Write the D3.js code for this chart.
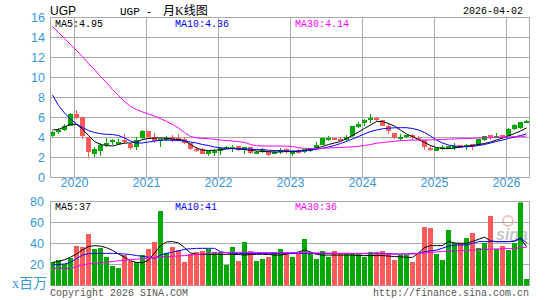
<!DOCTYPE html>
<html>
<head>
<meta charset="utf-8">
<script src="https://cdn.jsdelivr.net/npm/d3@7"></script>
<style>
body { margin: 0; background: #fff; }
svg { display: block; }
</style>
</head>
<body>
<div id="chart"></div>
<script>
// monthly K-line, Sep 2019 .. Apr 2026
var months = [
  "2019-09","2019-10","2019-11","2019-12",
  "2020-01","2020-02","2020-03","2020-04","2020-05","2020-06","2020-07","2020-08","2020-09","2020-10","2020-11","2020-12",
  "2021-01","2021-02","2021-03","2021-04","2021-05","2021-06","2021-07","2021-08","2021-09","2021-10","2021-11","2021-12",
  "2022-01","2022-02","2022-03","2022-04","2022-05","2022-06","2022-07","2022-08","2022-09","2022-10","2022-11","2022-12",
  "2023-01","2023-02","2023-03","2023-04","2023-05","2023-06","2023-07","2023-08","2023-09","2023-10","2023-11","2023-12",
  "2024-01","2024-02","2024-03","2024-04","2024-05","2024-06","2024-07","2024-08","2024-09","2024-10","2024-11","2024-12",
  "2025-01","2025-02","2025-03","2025-04","2025-05","2025-06","2025-07","2025-08","2025-09","2025-10","2025-11","2025-12",
  "2026-01","2026-02","2026-03","2026-04"
];

var openP  = [4.15,4.62,4.82,5.2,6.35,6.05,4.1,2.35,2.65,3.3, 3.48,3.48,3.72,3.35,3.1,3.95,4.65,4.1,3.72,3.92,
              4.05,4.0,3.85,3.45,2.9,2.9,2.35,2.6,2.65,2.95, 2.95,3.15,2.8,3.05,2.45,2.65,2.63,2.5,2.75,2.9,
              2.38,2.67,2.58,2.65,2.95,3.35,3.87,3.97,3.9,3.73, 4.15,5.05,5.47,5.93,5.97,5.73,5.15,4.5,4.03,4.07,
              4.3,4.0,3.75,2.93,2.73,3.03,2.9,3.1,3.23,3.2, 3.33,3.23,3.8,4.23,4.14,4.23,4.17,4.83,5.0,5.64];
var closeP = [4.55,4.72,5.2,6.35,5.95,4.2,2.57,2.82,3.25,3.45, 3.72,3.58,3.5,2.97,3.8,4.65,4.05,3.68,3.9,4.0,
              3.75,3.82,3.5,2.85,2.82,2.4,2.62,2.68,2.95,3.03, 3.05,2.8,3.03,2.45,2.52,2.88,2.25,2.6,2.8,2.58,
              2.65,2.6,2.85,2.95,3.3,4.0,3.93,3.77,3.7,4.05, 5.15,5.4,5.77,6.0,5.75,5.1,4.65,3.97,4.1,4.3,
              4.07,3.95,3.07,2.87,3.0,3.1,3.17,3.15,2.97,3.25, 3.07,3.83,4.17,4.0,4.2,3.97,4.9,5.23,5.57,5.7];
var highP  = [4.65,4.95,5.4,6.45,6.75,6.1,4.1,3.05,3.45,4.0, 3.9,3.9,4.35,3.5,4.1,4.8,4.65,4.5,3.9,4.15,
              4.3,4.35,4.05,3.5,3.1,2.92,2.65,2.85,2.95,3.15, 3.3,3.2,3.08,3.05,2.68,2.95,2.65,2.62,3.0,2.95,
              2.65,2.9,2.9,3.0,3.6,4.0,4.15,3.97,4.05,4.3, 5.2,5.55,5.9,6.4,6.05,5.73,5.4,4.5,4.4,4.3,
              4.4,4.15,3.75,3.25,3.0,3.3,3.17,3.45,3.25,3.4, 3.4,3.85,4.2,4.25,4.45,4.25,4.95,5.3,5.6,5.75];
var lowP   = [4.05,4.4,4.7,5.15,5.8,3.95,1.97,2.05,2.15,3.15, 3.3,3.3,3.4,2.8,2.85,3.85,3.85,3.5,3.15,3.7,
              3.65,3.7,3.4,2.8,2.6,2.35,2.2,2.2,2.25,2.85, 2.6,2.75,2.4,2.35,2.35,2.5,2.2,2.45,2.4,2.35,
              2.2,2.45,2.55,2.6,2.95,3.3,3.65,3.75,3.65,3.65, 4.1,4.95,5.25,5.5,5.65,5.1,4.4,3.95,3.75,4.0,
              3.85,3.65,2.8,2.65,2.7,2.85,2.85,2.75,2.95,2.8, 2.8,3.2,3.75,3.75,3.95,3.9,4.15,4.75,4.95,5.5];

var ma5  = [4.75,4.8,5.05,5.35,5.3,4.85,4.2,3.6,3.3,3.2, 3.15,3.3,3.45,3.45,3.55,3.8,3.9,3.95,3.95,3.93,
            3.85,3.8,3.7,3.3,2.95,2.75,2.7,2.72,2.78,2.85, 2.9,2.85,2.8,2.72,2.65,2.6,2.58,2.55,2.55,2.6,
            2.58,2.62,2.7,2.8,2.95,3.1,3.3,3.45,3.6,3.9, 4.2,4.55,4.9,5.25,5.6,5.6,5.4,5.15,4.75,4.35,
            4.1,3.8,3.5,3.2,3.0,2.9,2.88,2.95,3.05,3.12, 3.2,3.3,3.4,3.55,3.75,3.95,4.15,4.4,4.65,4.95];
var ma10 = [8.25,7.2,6.45,5.85,5.35,5.0,4.7,4.5,4.38,4.32, 4.3,4.2,3.95,3.65,3.45,3.45,3.55,3.65,3.72,3.75,
            3.72,3.7,3.65,3.55,3.45,3.3,3.2,3.05,2.97,2.92, 2.9,2.88,2.86,2.83,2.8,2.77,2.73,2.7,2.68,2.65,
            2.65,2.67,2.7,2.75,2.82,2.92,3.05,3.2,3.4,3.6, 3.85,4.1,4.35,4.6,4.75,4.87,4.93,4.97,4.98,4.98,
            4.9,4.75,4.5,4.15,3.75,3.45,3.25,3.15,3.1,3.08, 3.12,3.2,3.3,3.45,3.6,3.75,3.9,4.05,4.2,4.36];
var ma30 = [15.1,14.5,13.9,13.3,12.7,12.1,11.4,10.8,10.1,9.5, 8.8,8.2,7.6,7.1,6.8,6.55,6.35,6.15,5.9,5.6,
            5.3,4.95,4.5,4.1,3.97,3.92,3.88,3.82,3.75,3.7, 3.65,3.58,3.52,3.3,3.18,3.15,3.15,3.15,3.15,3.13,
            3.1,2.98,2.92,2.9,2.9,2.92,2.95,2.98,3.0,3.03, 3.07,3.12,3.2,3.3,3.42,3.5,3.56,3.62,3.68,3.72,
            3.74,3.75,3.76,3.77,3.78,3.8,3.84,3.86,3.88,3.9, 3.92,3.95,3.97,3.98,4.0,4.02,4.05,4.08,4.1,4.14];

// volume, millions
var volume = [22.4,24.6,20.8,26.6,38,37.1,48.6,34.9,35.5,27.5, 18.9,16.3,29.4,23,22.4,29.1,35.2,41,70.7,31,
              37.1,34.2,22,30.4,31.7,33.3,35.2,32,31.7,19.2, 36.2,23.7,41,32.6,23.7,25.3,26.9,31.7,35.2,32,
              27.4,29.7,44.3,30.6,25.2,32.9,27.1,32.9,30.6,29.7, 29.7,29.7,27.1,31.9,31.9,32.9,30.6,24.2,29,29,
              22.3,30.6,56.1,54.9,29.7,24.2,53,40.2,40.2,45, 49.8,35.4,40.8,66.3,34.4,38,33.8,40.2,79.1,6.1];
var volMa5  = [22,23,24.5,27,30,34,37,38,37.5,36, 33.5,30,27,23.5,22,21.7,24,31,38,41.5,
               41.8,40.5,36,31,29.7,29.7,29.7,29.7,29.7,29.7, 29.7,29.5,29,29.5,29.7,29.7,29.5,29,29,30,
               30.6,32,33.8,32,29.5,29,29,29,29,29, 29,28.5,28.5,28.5,28.5,28.5,28,27.5,27.4,26.8,
               26.8,31,36,38,38,38,42,40.5,40.2,40.2, 42,44,46,42.5,41.8,41.8,41.8,42,45,37];
var volMa10 = [19.5,20,20.5,22,25.5,29,30.3,30.5,30.5,30.6, 30.6,30.3,30,29.5,28.5,27.8,27,25.8,29,30.6,
               31.8,33,34.4,35,35.4,35.4,35.4,35.4,32.2,31.3, 30.6,30.6,30.6,30.6,30.6,30.6,30.6,30.6,30.6,30.6,
               30.6,30.6,30.6,30.6,30.6,30.6,30.6,30.6,30.6,30.6, 30.6,30.6,30.6,30.6,30.6,30.6,30.3,30,30,30,
               30.6,30.6,32.2,33,33.8,35.5,37.5,38.6,38.6,38.6, 40,41.8,41.8,41.8,41.8,41.8,41.8,42.5,45,41];
var volMa30 = [16.3,16.3,16.3,16.3,18,19.5,20.8,21.2,21.6,22, 22.8,23.5,24,24.6,25.1,25.6,26.1,26.6,27.1,27.5,
               27.8,28.1,28.5,29,29.5,30,30.4,30.8,31.1,31.3, 31.5,31.6,31.6,31.6,31.5,31.4,31.3,31.2,31,31.2,
               31.3,31.3,31.3,31.2,31,30.9,30.8,30.7,30.6,30.6, 30.5,30.4,30.3,30.2,30.1,30,30,30,30,30,
               30,30.5,31,31.5,32,32.4,32.8,33,33.2,33.4, 33.7,34,34.4,34.6,34.8,35,35.2,35.4,36,36.4];

var priceTicks = [0,2,4,6,8,10,12,14,16];
var volTicks = [20,40,60,80];
var yearTicks = ["2020-01","2021-01","2022-01","2023-01","2024-01","2025-01","2026-01"];

var width = 545, height = 300;
var left = 50, right = 530;
var green = "#00a800", red = "#ff5a5a", grid = "#aaaaaa", axisBlue = "#3399dd";

var svg = d3.select("#chart").append("svg").attr("width", width).attr("height", height);

var x = d3.scaleBand().domain(months).range([left, right]);
var yP = d3.scaleLinear().domain([0, 16]).range([177.5, 17.5]);
var yV = d3.scaleLinear().domain([0, 80]).range([285.5, 201.5]);
var bw = x.bandwidth() - 1;

// ---- grid + frames
var g = svg.append("g").attr("shape-rendering", "crispEdges");
g.selectAll(".hp").data(priceTicks.slice(1, -1)).enter().append("line")
    .attr("x1", left + 0.5).attr("x2", right - 0.5)
    .attr("y1", function(d){ return yP(d); }).attr("y2", function(d){ return yP(d); })
    .attr("stroke", grid);
g.selectAll(".vp").data(yearTicks).enter().append("line")
    .attr("x1", function(d){ return x(d) + 0.5; }).attr("x2", function(d){ return x(d) + 0.5; })
    .attr("y1", yP(16)).attr("y2", yP(0))
    .attr("stroke", grid);
g.selectAll(".hv").data(volTicks.slice(0, -1)).enter().append("line")
    .attr("x1", left + 0.5).attr("x2", right - 0.5)
    .attr("y1", function(d){ return yV(d); }).attr("y2", function(d){ return yV(d); })
    .attr("stroke", grid);
g.append("rect").attr("x", left + 0.5).attr("y", yP(16)).attr("width", right - left - 1).attr("height", yP(0) - yP(16))
    .attr("fill", "none").attr("stroke", grid);
g.append("rect").attr("x", left + 0.5).attr("y", yV(80)).attr("width", right - left - 1).attr("height", yV(0) - yV(80))
    .attr("fill", "none").attr("stroke", grid);

// clip
svg.append("clipPath").attr("id", "clipP").append("rect")
    .attr("x", left + 1).attr("y", yP(16)).attr("width", right - left - 2).attr("height", yP(0) - yP(16));
svg.append("clipPath").attr("id", "clipV").append("rect")
    .attr("x", left + 1).attr("y", yV(80) + 1).attr("width", right - left - 2).attr("height", yV(0) - yV(80) - 1);

// sina watermark
var wm = svg.append("g").attr("opacity", 0.55);
wm.append("circle").attr("cx", 508).attr("cy", 221).attr("r", 5).attr("fill", "none").attr("stroke", "#e09a9a").attr("stroke-width", 2);
wm.append("text").attr("x", 496).attr("y", 240).text("sina")
    .attr("font-family", "Liberation Sans, Arial, sans-serif").attr("font-style", "italic").attr("font-weight", "bold")
    .attr("font-size", 16).attr("fill", "#999");

// ---- candles
var candles = svg.append("g").attr("shape-rendering", "crispEdges").attr("clip-path", "url(#clipP)");
var cg = candles.selectAll(".c").data(months).enter().append("g");
cg.append("rect")
    .attr("x", function(d){ return x(d) + 2; })
    .attr("width", 1)
    .attr("y", function(d, i){ return Math.round(yP(highP[i])); })
    .attr("height", function(d, i){ return Math.max(1, Math.round(yP(lowP[i]) - yP(highP[i]))); })
    .attr("fill", function(d, i){ return closeP[i] >= openP[i] ? green : red; });
cg.append("rect")
    .attr("x", function(d){ return x(d); })
    .attr("width", bw)
    .attr("y", function(d, i){ return Math.round(yP(Math.max(openP[i], closeP[i]))); })
    .attr("height", function(d, i){ return Math.max(2, Math.round(Math.abs(yP(openP[i]) - yP(closeP[i])))); })
    .attr("fill", function(d, i){ return closeP[i] >= openP[i] ? green : red; });

// ---- volume bars
var bars = svg.append("g").attr("shape-rendering", "crispEdges").attr("clip-path", "url(#clipV)");
bars.selectAll("rect").data(volume).enter().append("rect")
    .attr("x", function(d, i){ return x(months[i]); })
    .attr("width", bw)
    .attr("y", function(d){ return Math.round(yV(d)); })
    .attr("height", function(d){ return 286 - Math.round(yV(d)); })
    .attr("fill", function(d, i){ return closeP[i] >= openP[i] ? green : red; });

// ---- moving averages
function maLine(yScale) {
    return d3.line()
        .x(function(d, i){ return x(months[i]) + 2.5; })
        .y(function(d){ return yScale(d); });
}
var priceMA = [[ma5, "#000000"], [ma10, "#0000ff"], [ma30, "#ff00ff"]];
var volMA = [[volMa5, "#000000"], [volMa10, "#0000ff"], [volMa30, "#ff00ff"]];
priceMA.forEach(function(m){
    svg.append("path").attr("d", maLine(yP)(m[0])).attr("fill", "none")
        .attr("stroke", m[1]).attr("stroke-width", 1).attr("clip-path", "url(#clipP)");
});
volMA.forEach(function(m){
    svg.append("path").attr("d", maLine(yV)(m[0])).attr("fill", "none")
        .attr("stroke", m[1]).attr("stroke-width", 1).attr("clip-path", "url(#clipV)");
});

// ---- axes
var pAxis = svg.append("g").attr("transform", "translate(" + (left - 4) + ",0)")
    .call(d3.axisLeft(yP).tickValues(priceTicks).tickSize(0).tickPadding(1));
var vAxis = svg.append("g").attr("transform", "translate(" + (left - 5) + ",0)")
    .call(d3.axisLeft(yV).tickValues(volTicks).tickSize(0).tickPadding(1));
var xAxis = svg.append("g").attr("transform", "translate(-2.5," + 176 + ")")
    .call(d3.axisBottom(x).tickValues(yearTicks).tickSize(0).tickPadding(2)
        .tickFormat(function(d){ return d.slice(0, 4); }));
[pAxis, vAxis, xAxis].forEach(function(a){
    a.select(".domain").remove();
    a.selectAll("text").attr("fill", axisBlue).attr("font-size", 12.5)
        .attr("font-family", "Liberation Sans, Arial, sans-serif");
});

svg.append("text").attr("x", 12).attr("y", 288).text("x百万")
    .attr("fill", axisBlue).attr("font-size", 14)
    .attr("font-family", "Liberation Serif, Noto Sans CJK SC, serif");

// ---- labels
var mono = "Liberation Mono, DejaVu Sans Mono, monospace";
var serif = "Liberation Serif, Noto Sans CJK SC, serif";
function label(tx, ty, s, col, fam, size, anchor) {
    svg.append("text").attr("x", tx).attr("y", ty).text(s)
        .attr("fill", col).attr("font-family", fam).attr("font-size", size)
        .attr("text-anchor", anchor || "start");
}
label(50, 15, "UGP", "#000", "Liberation Sans, Arial, sans-serif", 12);
// title, spaced out like the original
label(120, 15, "UGP", "#000", mono, 11);
label(149, 15, "-", "#000", mono, 11, "middle");
label(163, 15, "月K线图", "#000", serif, 12);
label(523, 14, "2026-04-02", "#000", mono, 10, "end");
label(55, 27, "MA5:4.95", "#000", mono, 10);
label(175, 27, "MA10:4.36", "#0000ff", mono, 10);
label(295, 27, "MA30:4.14", "#ff00ff", mono, 10);
label(55, 210, "MA5:37", "#000", mono, 10);
label(175, 210, "MA10:41", "#0000ff", mono, 10);
label(295, 210, "MA30:36", "#ff00ff", mono, 10);
label(50, 296, "Copyright 2026 SINA.COM", "#555", mono, 10);
label(529, 296, "http://finance.sina.com.cn", "#555", mono, 10, "end");
</script>
</body>
</html>
